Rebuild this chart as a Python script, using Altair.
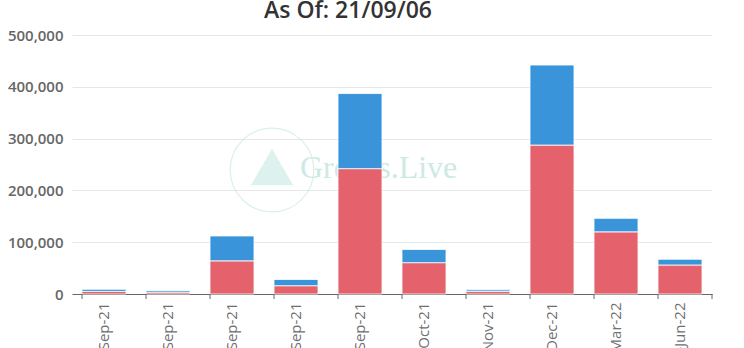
import altair as alt
import pandas as pd

# ---- data ----
expiries = ["7-Sep-21", "8-Sep-21", "10-Sep-21", "17-Sep-21", "24-Sep-21",
            "29-Oct-21", "26-Nov-21", "31-Dec-21", "25-Mar-22", "24-Jun-22"]
puts = [5000, 3500, 64000, 16000, 242000, 60500, 5000, 287500, 120000, 56000]
calls = [4000, 3000, 48000, 12000, 145000, 25500, 3000, 154500, 26000, 11000]
title_lines = ["BTC Options Open Interest by Expiration", "As Of: 21/09/06"]
y_ticks = [0, 100000, 200000, 300000, 400000, 500000]

rows = []
for e, p, c in zip(expiries, puts, calls):
    rows.append({"expiry": e, "series": "Puts", "value": p, "ord": 0})
    rows.append({"expiry": e, "series": "Calls", "value": c, "ord": 1})
df = pd.DataFrame(rows)
cats = pd.DataFrame({"expiry": expiries})

W, H = 640, 259
FONT = "Open Sans"

xscale = alt.Scale(domain=expiries, paddingInner=0.3125, paddingOuter=0.15625)

bars = alt.Chart(df).mark_bar(stroke="white", strokeWidth=0.8).encode(
    x=alt.X("expiry:N", sort=expiries, scale=xscale, title=None,
            axis=alt.Axis(labelAngle=270, labelAlign="right", labelBaseline="middle",
                          labelPadding=8, labelFontSize=15, labelColor="#707070",
                          labelFont=FONT, ticks=False, domainColor="#666666",
                          domainWidth=1, grid=False)),
    y=alt.Y("value:Q", stack="zero", title=None,
            scale=alt.Scale(domain=[0, 500000], nice=False),
            axis=alt.Axis(values=y_ticks, format=",.0f", labelFontSize=15,
                          labelColor="#666666", labelFont=FONT, labelPadding=9,
                          labelFontWeight=600,
                          ticks=False, domain=False, gridColor="#e6e6e6")),
    color=alt.Color("series:N", scale=alt.Scale(domain=["Puts", "Calls"],
                                                range=["#e5616b", "#3a94d9"]),
                    legend=None),
    order=alt.Order("ord:Q", sort="ascending"),
)

ticks = alt.Chart(cats).mark_rule(color="#666666", strokeWidth=1).encode(
    x=alt.X("expiry:N", sort=expiries, scale=xscale, bandPosition=0),
    y=alt.value(H), y2=alt.value(H + 5),
)
end_tick = alt.Chart(cats.head(1)).mark_rule(color="#666666", strokeWidth=1).encode(
    x=alt.value(W), y=alt.value(H), y2=alt.value(H + 5),
)

# faint watermark
wm_text = alt.Chart(cats.head(1)).mark_text(
    text="Greeks.Live", font="Liberation Serif", fontSize=32, color="#cde9e5",
    align="left", baseline="middle").encode(x=alt.value(228), y=alt.value(133))
wm_circle = alt.Chart(cats.head(1)).mark_point(
    shape="circle", size=7000, filled=False, color="#cde9e5", strokeWidth=1.2
).encode(x=alt.value(200), y=alt.value(135))
wm_tri = alt.Chart(cats.head(1)).mark_point(
    shape="triangle-up", size=1800, filled=True, color="#c6e7e2", opacity=0.6
).encode(x=alt.value(200), y=alt.value(132))

t1 = alt.Chart(cats.head(1)).mark_text(
    text=title_lines[0], font=FONT, fontSize=23, fontWeight=600, color="#333333",
    align="center", baseline="alphabetic").encode(x=alt.value(276), y=alt.value(-41))
t2 = alt.Chart(cats.head(1)).mark_text(
    text=title_lines[1], font=FONT, fontSize=23, fontWeight=600, color="#333333",
    align="center", baseline="alphabetic").encode(x=alt.value(276), y=alt.value(-17))

chart = alt.layer(wm_circle, wm_tri, wm_text, bars, ticks, end_tick, t1, t2).properties(
    width=W, height=H,
    autosize=alt.AutoSizeParams(type="none"),
    padding={"left": 72, "top": 35, "right": 32, "bottom": 54},
    background="white",
).configure_view(stroke=None)

chart.save("out.html", embed_options={"renderer": "svg", "actions": False})
